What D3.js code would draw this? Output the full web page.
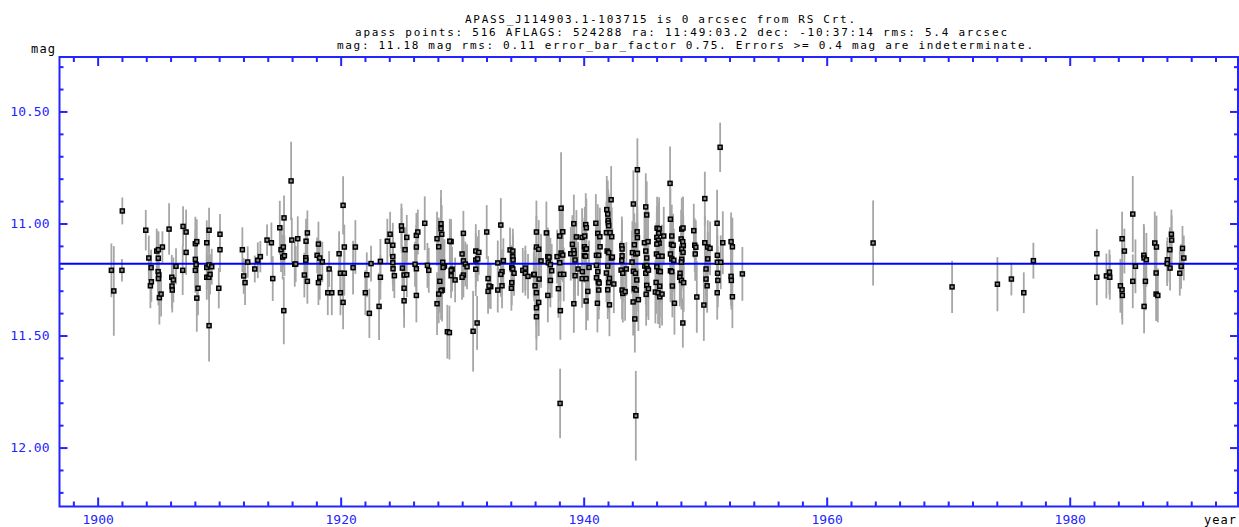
<!DOCTYPE html>
<html>
<head>
<meta charset="utf-8">
<script src="https://cdn.jsdelivr.net/npm/d3@7"></script>
<style>
  html, body { margin: 0; padding: 0; background: #fff; }
  svg { display: block; font-family: "DejaVu Sans Mono", "Liberation Mono", monospace; }
</style>
</head>
<body>
<svg id="chart" width="1239" height="527"></svg>
<script>
// ---- header text ----
const titleLines = [
  "APASS_J114903.1-103715 is 0 arcsec from RS Crt.",
  "apass points: 516 AFLAGS: 524288 ra: 11:49:03.2 dec: -10:37:14 rms: 5.4 arcsec",
  "mag: 11.18 mag rms: 0.11 error_bar_factor 0.75. Errors >= 0.4 mag are indeterminate."
];
const yAxisTitle = "mag";
const xAxisTitle = "year";

// ---- reference level and ticks ----
const meanMag = 11.18;
const yMajorTicks = [10.5, 11.0, 11.5, 12.0];
const xMajorTicks = [1900, 1920, 1940, 1960, 1980];

// ---- plate measurements: [year, magnitude, half error bar (mag)] ----
const obs1901_1920 = [
  [1901.13,11.209,0.12],[1901.33,11.301,0.20],[1902.03,10.944,0.06],[1902.00,11.209,0.05],[1903.96,11.030,0.09],
  [1904.21,11.154,0.10],[1904.34,11.278,0.10],[1904.40,11.197,0.08],[1904.42,11.260,0.09],[1904.86,11.123,0.10],
  [1905.00,11.117,0.08],[1904.99,11.155,0.12],[1904.98,11.215,0.10],[1905.02,11.230,0.11],[1905.00,11.246,0.12],
  [1905.08,11.331,0.12],[1905.22,11.315,0.10],[1905.33,11.105,0.07],[1905.88,11.025,0.115],[1906.10,11.240,0.10],
  [1906.23,11.252,0.10],[1906.12,11.279,0.10],[1906.14,11.297,0.10],[1906.45,11.191,0.08],[1907.00,11.209,0.11],
  [1907.03,11.013,0.09],[1907.28,11.038,0.10],[1907.28,11.129,0.10],[1908.04,11.090,0.12],[1908.16,11.081,0.10],
  [1908.04,11.160,0.13],[1908.10,11.184,0.12],[1908.04,11.209,0.10],[1908.16,11.333,0.15],[1908.26,11.289,0.12],
  [1908.98,11.086,0.10],[1909.17,11.030,0.10],[1908.98,11.196,0.10],[1909.17,11.185,0.10],[1909.39,11.193,0.08],
  [1908.98,11.240,0.10],[1909.15,11.240,0.10],[1909.25,11.227,0.09],[1909.17,11.456,0.16],[1910.07,11.048,0.09],
  [1910.07,11.117,0.10],[1909.97,11.289,0.09],[1911.91,11.117,0.10],[1912.02,11.234,0.08],[1912.13,11.264,0.10],
  [1912.35,11.172,0.07],[1912.93,11.203,0.06],[1913.18,11.164,0.08],[1913.39,11.148,0.07],[1913.94,11.074,0.07],
  [1914.30,11.086,0.09],[1914.41,11.246,0.10],[1914.99,11.019,0.12],[1915.09,11.117,0.10],[1915.23,11.150,0.10],
  [1915.37,11.144,0.09],[1915.28,11.105,0.09],[1915.34,10.975,0.10],[1915.32,11.389,0.15],[1915.92,10.810,0.175],
  [1915.98,11.074,0.10],[1916.22,11.182,0.10],[1916.30,11.181,0.08],[1916.47,11.068,0.10],[1917.15,11.079,0.10],
  [1917.26,11.042,0.10],[1917.13,11.153,0.10],[1917.13,11.164,0.09],[1917.01,11.230,0.10],[1917.26,11.258,0.10],
  [1918.17,11.092,0.10],[1918.06,11.142,0.08],[1918.28,11.154,0.08],[1918.49,11.171,0.09],[1918.17,11.264,0.10],
  [1918.28,11.240,0.10],[1919.05,11.203,0.08],[1918.94,11.309,0.10],[1919.27,11.309,0.10],[1919.87,11.135,0.10],
  [1920.20,10.919,0.13],[1920.30,11.105,0.10],[1919.98,11.222,0.10],[1920.30,11.222,0.10],[1919.98,11.309,0.10],
  [1920.20,11.352,0.12]
];

const obs1921_1935 = [
  [1921.21,11.105,0.12],[1921.02,11.197,0.12],[1922.15,11.229,0.10],[1922.03,11.309,0.10],[1922.36,11.401,0.11],
  [1922.50,11.179,0.08],[1923.27,11.169,0.10],[1923.27,11.240,0.10],[1923.16,11.370,0.15],[1923.84,11.079,0.10],
  [1924.07,11.048,0.10],[1924.29,11.097,0.10],[1924.29,11.148,0.10],[1924.29,11.175,0.10],[1924.31,11.202,0.10],
  [1924.42,11.233,0.10],[1925.00,11.011,0.10],[1925.02,11.030,0.10],[1925.08,11.199,0.10],[1925.30,11.117,0.10],
  [1925.44,11.062,0.10],[1925.22,11.230,0.10],[1925.44,11.229,0.10],[1925.22,11.289,0.12],[1925.22,11.345,0.12],
  [1926.23,11.053,0.10],[1926.35,11.038,0.10],[1926.23,11.105,0.10],[1926.12,11.182,0.10],[1926.23,11.202,0.10],
  [1926.23,11.321,0.12],[1926.92,10.999,0.12],[1927.14,11.187,0.10],[1927.25,11.209,0.10],[1927.93,11.068,0.12],
  [1928.07,11.104,0.13],[1928.26,11.001,0.15],[1928.26,11.023,0.14],[1928.32,11.048,0.13],[1928.40,11.173,0.13],
  [1928.54,11.190,0.12],[1928.43,11.196,0.12],[1928.16,11.258,0.14],[1928.35,11.297,0.14],[1928.26,11.300,0.13],
  [1928.07,11.315,0.13],[1927.93,11.358,0.14],[1929.09,11.081,0.10],[1928.98,11.079,0.10],[1929.17,11.204,0.10],
  [1929.09,11.209,0.10],[1929.09,11.233,0.10],[1929.42,11.252,0.10],[1928.78,11.483,0.12],[1928.95,11.487,0.12],
  [1930.10,11.044,0.10],[1929.99,11.136,0.10],[1930.10,11.167,0.10],[1930.26,11.181,0.10],[1930.40,11.193,0.10],
  [1930.10,11.230,0.10],[1929.99,11.240,0.10],[1931.12,11.123,0.12],[1931.37,11.129,0.10],[1931.12,11.163,0.12],
  [1931.28,11.158,0.10],[1931.12,11.204,0.12],[1930.90,11.481,0.18],[1931.23,11.444,0.12],[1932.02,11.038,0.12],
  [1932.13,11.246,0.10],[1932.35,11.282,0.10],[1932.21,11.279,0.10],[1932.13,11.303,0.10],[1932.93,11.176,0.10],
  [1933.18,11.007,0.12],[1933.39,11.166,0.10],[1933.28,11.215,0.10],[1933.18,11.227,0.10],[1933.28,11.278,0.10],
  [1932.93,11.297,0.10],[1933.94,11.118,0.10],[1934.17,11.123,0.10],[1934.17,11.148,0.10],[1934.19,11.163,0.10],
  [1934.08,11.197,0.10],[1934.17,11.203,0.10],[1934.27,11.222,0.10],[1934.08,11.264,0.10],[1934.05,11.289,0.10],
  [1934.99,11.209,0.10],[1935.20,11.199,0.10],[1935.20,11.222,0.10],[1935.42,11.236,0.10],[1935.89,11.229,0.10]
];

const obs1936_1953 = [
  [1935.92,11.227,0.12],[1936.00,11.278,0.13],[1936.11,11.038,0.14],[1936.11,11.105,0.14],[1936.30,11.115,0.13],
  [1936.11,11.309,0.15],[1936.30,11.352,0.15],[1936.11,11.416,0.15],[1936.11,11.376,0.14],[1936.33,11.248,0.12],
  [1936.49,11.167,0.12],[1936.93,11.042,0.14],[1937.05,11.148,0.13],[1937.15,11.150,0.12],[1937.09,11.175,0.12],
  [1937.26,11.184,0.12],[1937.37,11.211,0.12],[1937.26,11.254,0.12],[1937.05,11.321,0.12],[1937.81,11.148,0.12],
  [1938.03,11.175,0.12],[1938.08,11.227,0.12],[1938.36,11.227,0.12],[1938.14,10.932,0.25],[1938.03,11.056,0.12],
  [1938.28,11.037,0.12],[1938.14,11.132,0.12],[1938.28,11.141,0.12],[1937.92,11.291,0.13],[1938.08,11.389,0.13],
  [1938.06,11.803,0.155],[1939.19,11.001,0.13],[1939.07,11.093,0.13],[1939.19,11.120,0.12],[1938.94,11.135,0.12],
  [1939.21,11.135,0.12],[1939.29,11.163,0.12],[1939.29,11.233,0.12],[1939.19,11.358,0.13],[1939.40,11.060,0.12],
  [1939.54,11.203,0.12],[1939.87,11.062,0.13],[1940.09,11.056,0.13],[1940.17,11.005,0.14],[1940.22,11.019,0.13],
  [1940.06,11.104,0.13],[1940.12,11.115,0.12],[1940.22,11.113,0.12],[1940.06,11.144,0.12],[1940.17,11.146,0.12],
  [1939.89,11.215,0.12],[1939.87,11.246,0.13],[1940.20,11.246,0.12],[1940.34,11.303,0.13],[1940.20,11.346,0.13],
  [1940.44,11.196,0.12],[1941.00,10.999,0.13],[1941.05,11.142,0.13],[1941.24,11.142,0.13],[1941.16,11.044,0.13],
  [1941.33,11.059,0.13],[1941.35,11.104,0.12],[1941.05,11.187,0.12],[1941.16,11.215,0.12],[1941.05,11.242,0.12],
  [1941.21,11.260,0.12],[1941.27,11.266,0.12],[1941.24,11.297,0.13],[1941.13,11.356,0.13],[1941.90,10.938,0.15],
  [1941.98,10.958,0.15],[1942.26,10.894,0.15],[1942.01,10.986,0.14],[1942.03,10.998,0.14],[1942.06,11.010,0.14],
  [1941.87,11.041,0.14],[1942.17,11.041,0.14],[1942.31,11.059,0.13],[1941.93,11.123,0.13],[1942.06,11.130,0.13],
  [1942.28,11.154,0.13],[1942.36,11.150,0.13],[1941.98,11.190,0.13],[1941.87,11.221,0.13],[1942.12,11.245,0.13],
  [1942.06,11.264,0.13],[1941.98,11.296,0.13],[1942.12,11.363,0.14],[1942.48,11.270,0.13],[1943.14,11.099,0.13],
  [1943.16,11.114,0.13],[1943.16,11.144,0.13],[1943.14,11.166,0.13],[1943.08,11.208,0.13],[1943.22,11.222,0.13],
  [1943.16,11.297,0.13],[1943.22,11.312,0.13],[1943.41,11.304,0.13],[1943.51,11.203,0.12],[1944.09,10.913,0.15],
  [1944.42,10.760,0.14],[1944.40,11.037,0.14],[1944.42,11.063,0.14],[1944.17,11.095,0.14],[1944.01,11.130,0.14],
  [1944.29,11.136,0.14],[1944.42,11.133,0.14],[1943.98,11.172,0.14],[1944.09,11.213,0.14],[1944.26,11.222,0.14],
  [1944.37,11.252,0.14],[1944.17,11.291,0.14],[1944.32,11.297,0.14],[1944.07,11.350,0.15],[1944.50,11.340,0.14],
  [1944.21,11.426,0.15],[1944.29,11.858,0.20],[1945.11,10.926,0.15],[1945.19,10.962,0.15],[1945.00,11.086,0.14],
  [1945.30,11.081,0.14],[1945.11,11.123,0.14],[1945.19,11.154,0.14],[1945.03,11.190,0.14],[1945.19,11.188,0.14],
  [1945.11,11.222,0.14],[1945.24,11.202,0.13],[1945.33,11.208,0.13],[1945.19,11.276,0.14],[1945.33,11.291,0.14],
  [1945.14,11.316,0.14],[1946.04,11.021,0.14],[1946.21,11.023,0.14],[1946.18,11.044,0.14],[1946.02,11.062,0.14],
  [1946.15,11.075,0.14],[1946.21,11.088,0.14],[1946.02,11.092,0.14],[1945.99,11.136,0.14],[1946.15,11.146,0.14],
  [1946.45,11.146,0.14],[1946.02,11.193,0.14],[1946.18,11.213,0.14],[1946.31,11.215,0.14],[1945.96,11.263,0.14],
  [1946.26,11.280,0.14],[1945.90,11.306,0.14],[1946.12,11.309,0.14],[1946.26,11.327,0.14],[1946.45,11.315,0.14],
  [1946.59,11.056,0.13],[1947.11,10.821,0.165],[1947.14,10.981,0.14],[1947.25,11.056,0.14],[1947.22,11.093,0.14],
  [1947.36,11.097,0.14],[1947.14,11.136,0.14],[1947.25,11.158,0.14],[1947.42,11.164,0.14],[1947.14,11.211,0.14],
  [1947.25,11.215,0.14],[1947.30,11.279,0.14],[1947.47,11.356,0.14],[1948.07,11.025,0.14],[1948.18,11.020,0.14],
  [1948.02,11.069,0.13],[1948.15,11.081,0.13],[1948.20,11.099,0.13],[1948.07,11.114,0.13],[1948.18,11.129,0.13],
  [1948.07,11.160,0.13],[1948.04,11.172,0.13],[1947.93,11.222,0.13],[1947.91,11.240,0.13],[1948.04,11.254,0.13],
  [1948.23,11.264,0.13],[1948.16,11.444,0.11],[1949.06,11.032,0.12],[1949.14,11.097,0.12],[1949.23,11.106,0.12],
  [1949.18,11.136,0.12],[1949.31,11.328,0.16],[1949.97,10.889,0.12],[1949.97,11.086,0.12],[1950.07,11.203,0.12],
  [1950.07,11.248,0.12],[1950.21,11.105,0.12],[1950.40,11.111,0.12],[1950.21,11.158,0.12],[1950.16,11.278,0.12],
  [1949.89,11.364,0.16],[1950.98,10.999,0.15],[1951.00,11.142,0.12],[1951.00,11.173,0.12],[1951.28,11.173,0.12],
  [1951.02,11.222,0.12],[1951.04,11.254,0.12],[1950.99,11.309,0.12],[1951.23,10.660,0.11],[1951.45,11.086,0.14],
  [1952.13,11.081,0.13],[1952.24,11.104,0.13],[1952.13,11.236,0.13],[1952.15,11.254,0.13],[1952.24,11.327,0.14],
  [1953.06,11.225,0.12]
];

const obs1963_1989 = [
  [1963.82,11.087,0.19],[1970.32,11.283,0.117],[1974.05,11.271,0.121],[1975.20,11.248,0.073],[1976.22,11.309,0.091],
  [1977.01,11.166,0.08],[1982.23,11.135,0.11],[1982.23,11.240,0.125],[1983.02,11.234,0.10],[1983.27,11.217,0.10],
  [1983.30,11.240,0.10],[1984.17,11.278,0.12],[1984.31,11.296,0.13],[1984.33,11.321,0.13],[1984.31,11.068,0.12],
  [1984.50,11.123,0.10],[1985.19,10.958,0.17],[1985.19,11.258,0.12],[1985.41,11.191,0.12],[1986.10,11.142,0.14],
  [1986.12,11.154,0.14],[1986.31,11.162,0.12],[1986.23,11.258,0.13],[1986.12,11.370,0.12],[1987.00,11.087,0.14],
  [1987.14,11.105,0.14],[1987.11,11.221,0.12],[1987.11,11.315,0.12],[1987.25,11.321,0.12],[1988.04,11.162,0.10],
  [1988.02,11.179,0.10],[1988.24,11.117,0.10],[1988.26,11.199,0.10],[1988.37,11.048,0.11],[1988.39,11.074,0.11],
  [1989.28,11.111,0.10],[1989.39,11.154,0.10],[1989.17,11.191,0.10],[1989.06,11.222,0.10]
];

// ---- layout ----
const svg = d3.select("#chart");
const plot = { left: 59.5, right: 1238, top: 57, bottom: 506.5 };
const axisColor = "#2424ff";
const fontFamily = '"DejaVu Sans Mono", "Liberation Mono", monospace';

svg.append("rect").attr("width", 1239).attr("height", 527).attr("fill", "#fff");

const x = d3.scaleLinear().domain([1896.86, 1993.85]).range([plot.left, plot.right]);
// magnitudes grow downward
const y = d3.scaleLinear().domain([10.257, 12.263]).range([plot.top, plot.bottom]);

const points = [].concat(obs1901_1920, obs1921_1935, obs1936_1953, obs1963_1989)
  .map(([year, mag, err]) => ({ year, mag, err }));

// ---- error bars ----
svg.append("g")
  .selectAll("line")
  .data(points)
  .join("line")
  .attr("x1", d => x(d.year)).attr("x2", d => x(d.year))
  .attr("y1", d => y(d.mag - d.err)).attr("y2", d => y(d.mag + d.err))
  .attr("stroke", "#a6a6a6")
  .attr("stroke-width", 1.8);

// ---- mean magnitude ----
svg.append("line")
  .attr("x1", plot.left).attr("x2", plot.right)
  .attr("y1", y(meanMag)).attr("y2", y(meanMag))
  .attr("stroke", "#0000ff")
  .attr("stroke-width", 2);

// ---- markers ----
svg.append("g")
  .selectAll("rect")
  .data(points)
  .join("rect")
  .attr("x", d => x(d.year) - 2)
  .attr("y", d => y(d.mag) - 2)
  .attr("width", 4).attr("height", 4)
  .attr("fill", "#8a8a8a")
  .attr("stroke", "#000")
  .attr("stroke-width", 1.5);

// ---- axes (ticks point into the plot) ----
const yMinorTicks = d3.range(103, 123).filter(v => v % 5 !== 0).map(v => v / 10);
const xMinorTicks = d3.range(1898, 1994, 2).filter(v => v % 20 !== 0);

function styleAxis(g) {
  g.select(".domain").remove();
  g.selectAll(".tick line").attr("stroke", axisColor).attr("stroke-width", 2);
  g.selectAll(".tick text")
    .attr("fill", axisColor)
    .style("font-family", fontFamily)
    .style("font-size", "13px");
}

// left
svg.append("g").attr("transform", `translate(${plot.left},0)`)
  .call(d3.axisLeft(y).tickValues(yMajorTicks).tickSize(-8).tickPadding(10).tickFormat(d3.format(".2f")))
  .call(styleAxis);
svg.append("g").attr("transform", `translate(${plot.left},0)`)
  .call(d3.axisLeft(y).tickValues(yMinorTicks).tickSize(-4).tickFormat(""))
  .call(styleAxis);
// right
svg.append("g").attr("transform", `translate(${plot.right},0)`)
  .call(d3.axisRight(y).tickValues(yMajorTicks).tickSize(-8).tickFormat(""))
  .call(styleAxis);
svg.append("g").attr("transform", `translate(${plot.right},0)`)
  .call(d3.axisRight(y).tickValues(yMinorTicks).tickSize(-4).tickFormat(""))
  .call(styleAxis);
// bottom
svg.append("g").attr("transform", `translate(0,${plot.bottom})`)
  .call(d3.axisBottom(x).tickValues(xMajorTicks).tickSize(-9).tickPadding(8).tickFormat(d3.format("d")))
  .call(styleAxis);
svg.append("g").attr("transform", `translate(0,${plot.bottom})`)
  .call(d3.axisBottom(x).tickValues(xMinorTicks).tickSize(-5).tickFormat(""))
  .call(styleAxis);
// top
svg.append("g").attr("transform", `translate(0,${plot.top})`)
  .call(d3.axisTop(x).tickValues(xMajorTicks).tickSize(-9).tickFormat(""))
  .call(styleAxis);
svg.append("g").attr("transform", `translate(0,${plot.top})`)
  .call(d3.axisTop(x).tickValues(xMinorTicks).tickSize(-5).tickFormat(""))
  .call(styleAxis);

// frame
svg.append("rect")
  .attr("x", plot.left).attr("y", plot.top)
  .attr("width", plot.right - plot.left).attr("height", plot.bottom - plot.top)
  .attr("fill", "none")
  .attr("stroke", axisColor)
  .attr("stroke-width", 2);

// ---- text ----
const titleLayout = [
  { x: 465, y: 23, w: 390 },
  { x: 355, y: 36, w: 652 },
  { x: 337, y: 49, w: 696 }
];
svg.append("g")
  .selectAll("text")
  .data(titleLines)
  .join("text")
  .attr("x", (d, i) => titleLayout[i].x)
  .attr("y", (d, i) => titleLayout[i].y)
  .attr("textLength", (d, i) => titleLayout[i].w)
  .attr("lengthAdjust", "spacing")
  .style("font-family", fontFamily)
  .style("font-size", "11px")
  .attr("fill", "#000")
  .text(d => d);

svg.append("text")
  .attr("x", 31).attr("y", 53)
  .attr("textLength", 24)
  .style("font-family", fontFamily)
  .style("font-size", "12px")
  .attr("fill", "#000")
  .text(yAxisTitle);

svg.append("text")
  .attr("x", 1204).attr("y", 524)
  .attr("textLength", 32)
  .style("font-family", fontFamily)
  .style("font-size", "12px")
  .attr("fill", "#000")
  .text(xAxisTitle);
</script>
</body>
</html>
